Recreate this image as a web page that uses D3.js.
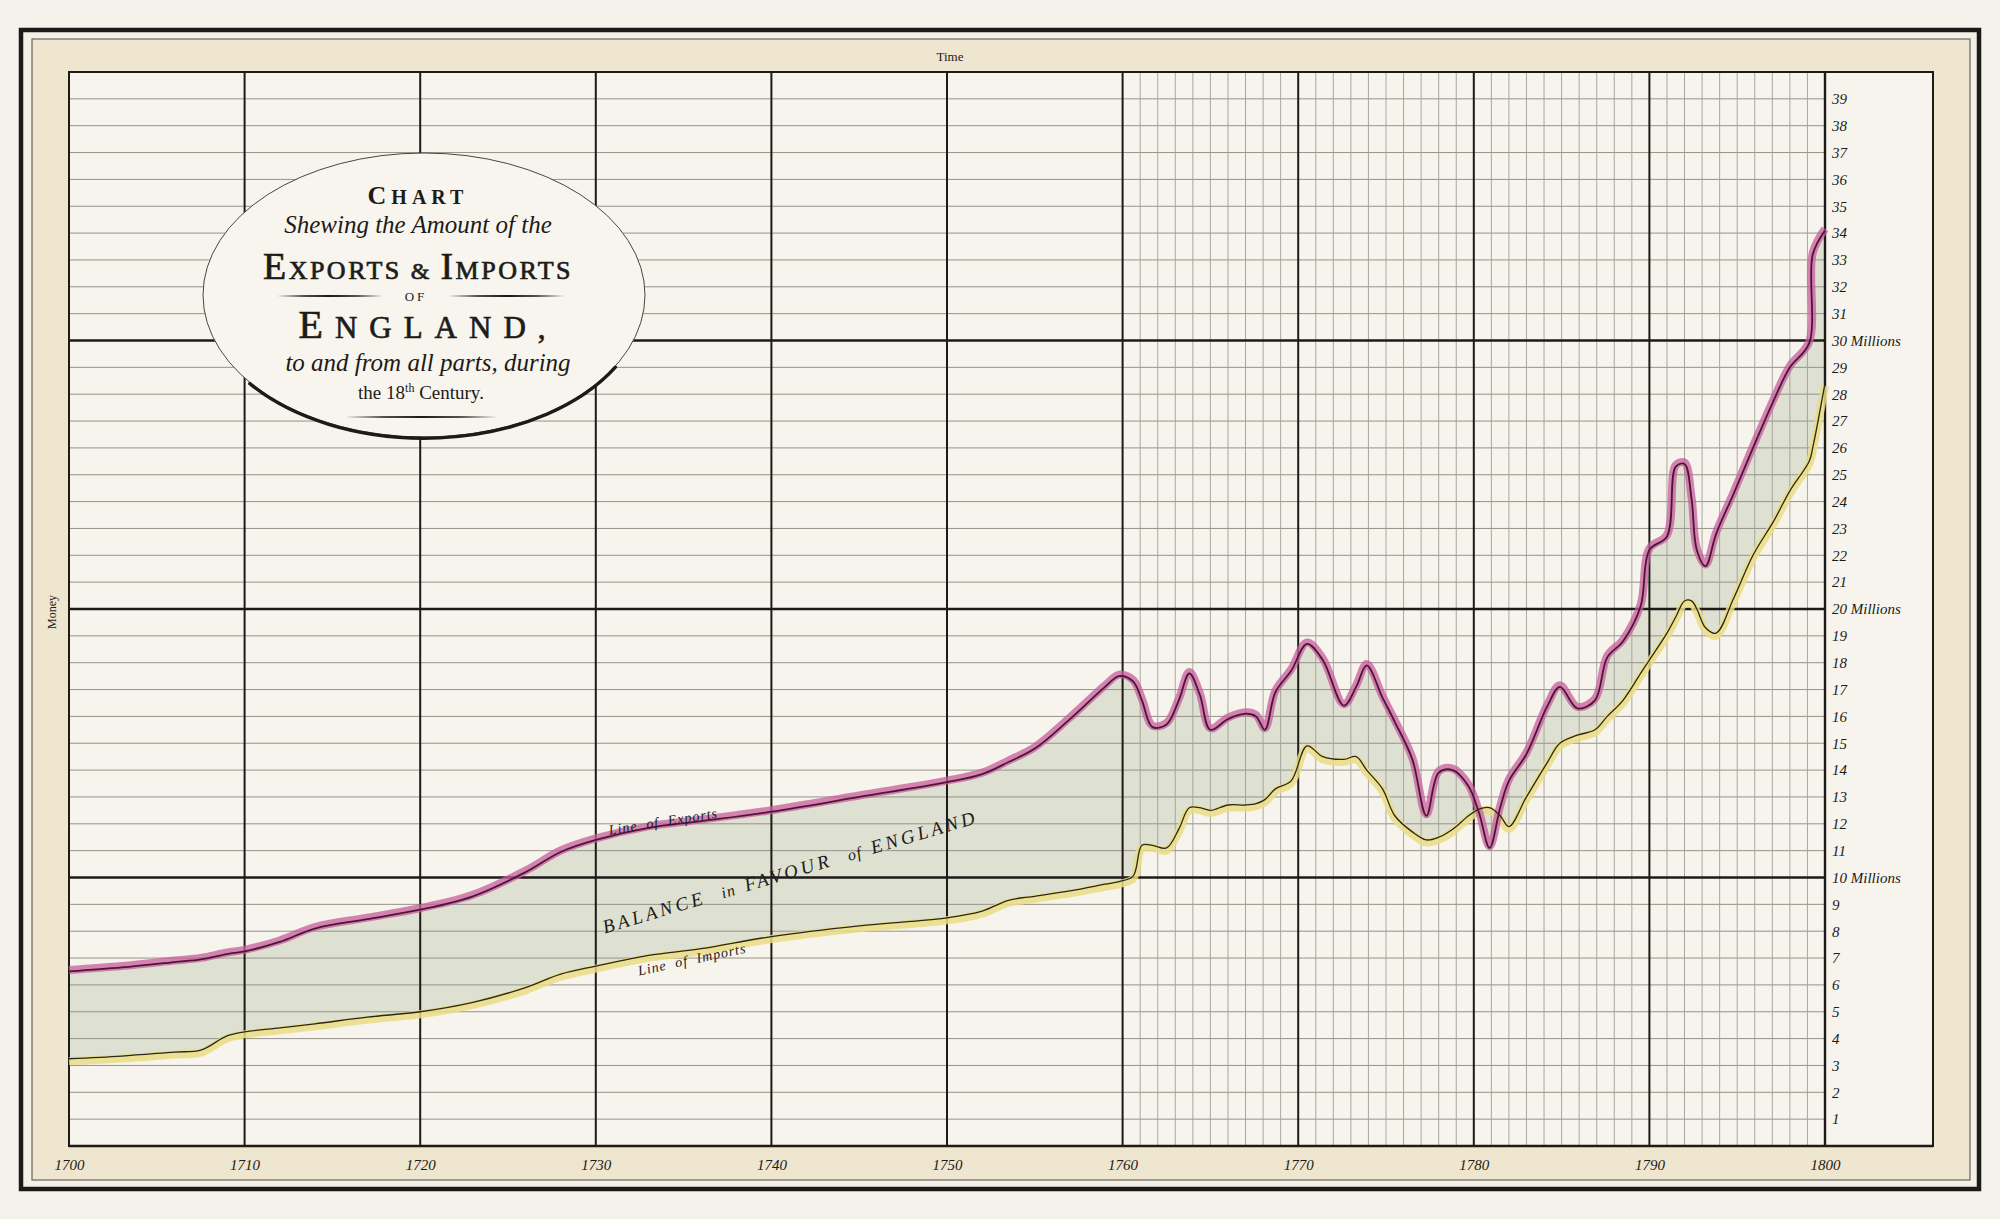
<!DOCTYPE html>
<html>
<head>
<meta charset="utf-8">
<script src="https://d3js.org/d3.v7.min.js"></script>
<style>
  body { margin: 0; background: #f4f2eb; }
  svg { display: block; }
  text { font-family: "Liberation Serif", "DejaVu Serif", serif; fill: #1d1a17; }
</style>
</head>
<body>
<div id="chart"></div>
<script>
// ----- data (millions of pounds)
var years = [1700, 1703, 1706, 1707.5, 1709, 1710, 1712, 1714, 1717, 1720, 1723, 1726, 1728, 1730,
  1733, 1736, 1740, 1745, 1750, 1752, 1753.5, 1755, 1757, 1759, 1759.8, 1760.6, 1761.1, 1761.7,
  1762.5, 1763.2, 1763.8, 1764.4, 1765, 1766, 1767, 1767.6, 1768.1, 1768.7, 1769.6, 1770.5,
  1771.4, 1772.6, 1773.3, 1773.9, 1774.8, 1775.5, 1776.5, 1777.3, 1778, 1778.8, 1779.7, 1780.3,
  1780.9, 1781.5, 1782, 1783, 1784.2, 1784.9, 1785.9, 1786.9, 1787.6, 1788.5, 1789.5, 1790,
  1791, 1791.5, 1792, 1792.4, 1792.7, 1793.2, 1793.8, 1794.8, 1795.9, 1797.1, 1798, 1799.1,
  1799.3, 1800];

var exportsM = [6.5, 6.65, 6.85, 6.95, 7.15, 7.25, 7.6, 8.1, 8.45, 8.8, 9.3, 10.2, 10.95, 11.4,
  11.85, 12.1, 12.45, 13.0, 13.55, 13.85, 14.3, 14.8, 15.9, 17.1, 17.5, 17.3, 16.6, 15.6,
  15.7, 16.6, 17.6, 16.8, 15.5, 15.9, 16.1, 16.0, 15.5, 16.9, 17.7, 18.7,
  18.1, 16.4, 17.1, 17.9, 16.7, 15.8, 14.4, 12.3, 13.9, 14.0, 13.4, 12.4,
  11.1, 12.6, 13.6, 14.6, 16.4, 17.1, 16.3, 16.6, 18.2, 18.8, 20.1, 22.2,
  22.7, 25.3, 25.4, 24.1, 22.2, 21.6, 22.8, 24.3, 26.0, 27.8, 29.0, 29.9,
  33.2, 34.1];

var importsM = [3.25, 3.35, 3.5, 3.57, 4.1, 4.25, 4.4, 4.55, 4.8, 5.0, 5.35, 5.9, 6.4, 6.7,
  7.1, 7.35, 7.8, 8.2, 8.5, 8.75, 9.15, 9.3, 9.5, 9.75, 9.85, 10.05, 11.2, 11.2,
  11.1, 11.8, 12.6, 12.6, 12.5, 12.7, 12.7, 12.75, 12.9, 13.3, 13.6, 14.9,
  14.5, 14.4, 14.5, 14.0, 13.3, 12.3, 11.7, 11.4, 11.5, 11.8, 12.3, 12.55,
  12.6, 12.3, 11.9, 13.0, 14.3, 15.0, 15.3, 15.5, 16.0, 16.6, 17.6, 18.1,
  19.1, 19.7, 20.3, 20.3, 20.0, 19.3, 19.1, 20.4, 22.0, 23.3, 24.4, 25.5,
  26.0, 28.4];

var decades = [1700, 1710, 1720, 1730, 1740, 1750, 1760, 1770, 1780, 1790, 1800];
var fineYears = d3.range(1761, 1800).filter(function (d) { return d % 10 !== 0; });
var millionTicks = d3.range(1, 40);
var majorMillions = [10, 20, 30];

// ----- dimensioni
var W = 2000, H = 1219;
var plot = { left: 69, right: 1825, top: 72, bottom: 1146, labelRight: 1933 };

var svg = d3.select('#chart').append('svg')
  .attr('width', W).attr('height', H)
  .attr('viewBox', '0 0 ' + W + ' ' + H);

var x = d3.scaleLinear().domain([1700, 1800]).range([plot.left, plot.right]);
var y = d3.scaleLinear().domain([0, 40]).range([plot.bottom, plot.top]);

var rows = years.map(function (yr, i) {
  return { year: yr, exp: exportsM[i], imp: importsM[i] };
});

// ----- pattern per le lettere incise
var defs = svg.append('defs');
var hatch = defs.append('pattern').attr('id', 'hatch')
  .attr('patternUnits', 'userSpaceOnUse').attr('width', 2.8).attr('height', 4);
hatch.append('rect').attr('width', 2.8).attr('height', 4).attr('fill', '#f2f0e8');
hatch.append('rect').attr('width', 1).attr('height', 4).attr('fill', '#3a3530');

// ----- cornice
svg.append('rect').attr('width', W).attr('height', H).attr('fill', '#f4f2eb');
svg.append('rect').attr('x', 21).attr('y', 30).attr('width', 1958).attr('height', 1159)
  .attr('fill', '#f3f0e7').attr('stroke', '#1c1a18').attr('stroke-width', 4.5);
svg.append('rect').attr('x', 32).attr('y', 39).attr('width', 1938).attr('height', 1141)
  .attr('fill', '#efe6cf').attr('stroke', '#6a655c').attr('stroke-width', 1.2);
svg.append('rect').attr('x', plot.left).attr('y', plot.top)
  .attr('width', plot.labelRight - plot.left).attr('height', plot.bottom - plot.top)
  .attr('fill', '#f6f4ec');

// ----- area del bilancio
var area = d3.area()
  .x(function (d) { return x(d.year); })
  .y0(function (d) { return y(d.imp); })
  .y1(function (d) { return y(d.exp); })
  .curve(d3.curveCatmullRom.alpha(0.5));

svg.append('path').datum(rows)
  .attr('d', area)
  .attr('fill', '#d9dccd')
  .attr('opacity', 0.85);

// ----- griglia
var grid = svg.append('g').attr('class', 'grid');

grid.selectAll('line.hmin').data(millionTicks.filter(function (d) { return d % 10 !== 0; }))
  .enter().append('line')
  .attr('x1', plot.left).attr('x2', plot.right)
  .attr('y1', function (d) { return y(d); }).attr('y2', function (d) { return y(d); })
  .attr('stroke', '#95928a').attr('stroke-width', 1);

grid.selectAll('line.vmin').data(fineYears)
  .enter().append('line')
  .attr('x1', function (d) { return x(d); }).attr('x2', function (d) { return x(d); })
  .attr('y1', plot.top).attr('y2', plot.bottom)
  .attr('stroke', '#a09e97').attr('stroke-width', 0.9);

grid.selectAll('line.hmaj').data(majorMillions)
  .enter().append('line')
  .attr('x1', plot.left).attr('x2', plot.right)
  .attr('y1', function (d) { return y(d); }).attr('y2', function (d) { return y(d); })
  .attr('stroke', '#1e1a17').attr('stroke-width', 2.4);

grid.selectAll('line.vmaj').data(decades.slice(1, -1))
  .enter().append('line')
  .attr('x1', function (d) { return x(d); }).attr('x2', function (d) { return x(d); })
  .attr('y1', plot.top).attr('y2', plot.bottom)
  .attr('stroke', '#1e1a17').attr('stroke-width', 2);

// bordi del grafico e colonna delle etichette
svg.append('path')
  .attr('d', 'M' + plot.left + ',' + plot.top + 'H' + plot.labelRight + 'V' + plot.bottom +
    'H' + plot.left + 'Z')
  .attr('fill', 'none').attr('stroke', '#1e1a17').attr('stroke-width', 2);
svg.append('line')
  .attr('x1', plot.right).attr('x2', plot.right).attr('y1', plot.top).attr('y2', plot.bottom)
  .attr('stroke', '#1e1a17').attr('stroke-width', 2.4);
svg.append('line')
  .attr('x1', plot.left).attr('x2', plot.labelRight).attr('y1', plot.bottom).attr('y2', plot.bottom)
  .attr('stroke', '#1e1a17').attr('stroke-width', 2.6);

// ----- linee di esportazioni e importazioni
function lineOf(key) {
  return d3.line()
    .x(function (d) { return x(d.year); })
    .y(function (d) { return y(d[key]); })
    .curve(d3.curveCatmullRom.alpha(0.5));
}

svg.append('path').datum(rows)
  .attr('d', lineOf('imp'))
  .attr('transform', 'translate(0,2.5)')
  .attr('fill', 'none').attr('stroke', '#e9dc84').attr('stroke-width', 8)
  .attr('stroke-linejoin', 'round').attr('opacity', 0.85);

svg.append('path').datum(rows)
  .attr('d', lineOf('exp'))
  .attr('transform', 'translate(0,-1.5)')
  .attr('fill', 'none').attr('stroke', '#c85c9c').attr('stroke-width', 8)
  .attr('stroke-linejoin', 'round').attr('opacity', 0.75);

svg.append('path').datum(rows)
  .attr('d', lineOf('imp'))
  .attr('fill', 'none').attr('stroke', '#2b2718').attr('stroke-width', 1.3);

svg.append('path').datum(rows)
  .attr('d', lineOf('exp'))
  .attr('fill', 'none').attr('stroke', '#4d1639').attr('stroke-width', 1.8);

// ----- assi
var xAxis = d3.axisBottom(x).tickValues(decades).tickSize(0).tickPadding(13)
  .tickFormat(function (d) { return String(d); });
var gx = svg.append('g').attr('transform', 'translate(0,' + plot.bottom + ')').call(xAxis);
gx.select('.domain').remove();
gx.selectAll('text')
  .style('font-family', '"Liberation Serif", serif')
  .style('font-style', 'italic').style('font-size', '15px').attr('fill', '#221e1a');

var yAxis = d3.axisRight(y).tickValues(millionTicks).tickSize(0).tickPadding(7)
  .tickFormat(function (d) { return d % 10 === 0 ? d + ' Millions' : String(d); });
var gy = svg.append('g').attr('transform', 'translate(' + plot.right + ',0)').call(yAxis);
gy.select('.domain').remove();
gy.selectAll('text')
  .style('font-family', '"Liberation Serif", serif')
  .style('font-style', 'italic').style('font-size', '15px').attr('fill', '#221e1a');

svg.append('text').attr('x', 950).attr('y', 61)
  .attr('text-anchor', 'middle').style('font-size', '13px').text('Time');
svg.append('text').attr('transform', 'translate(56,612) rotate(-90)')
  .attr('text-anchor', 'middle').style('font-size', '12px').attr('fill', '#77726a').text('Money');

// ----- etichette sulle linee
svg.append('text').attr('transform', 'translate(664,826) rotate(-9)')
  .attr('text-anchor', 'middle').style('font-style', 'italic').style('font-size', '14px')
  .style('letter-spacing', '1px').attr('xml:space', 'preserve').text('Line  of  Exports');

svg.append('text').attr('transform', 'translate(693,964) rotate(-12)')
  .attr('text-anchor', 'middle').style('font-style', 'italic').style('font-size', '14px')
  .style('letter-spacing', '1px').attr('xml:space', 'preserve').text('Line  of  Imports');

var bal = svg.append('text').attr('transform', 'translate(792,878) rotate(-16.5)')
  .attr('text-anchor', 'middle').style('font-style', 'italic').style('font-size', '19px')
  .style('letter-spacing', '3.5px').attr('xml:space', 'preserve');
bal.append('tspan').text('BALANCE  ');
bal.append('tspan').style('font-size', '16px').style('letter-spacing', '1px').text('in  ');
bal.append('tspan').text('FAVOUR  ');
bal.append('tspan').style('font-size', '16px').style('letter-spacing', '1px').text('of  ');
bal.append('tspan').text('ENGLAND');

// ----- cartiglio del titolo
var cx = 424, cy = 295, rx = 221, ry = 142;
var cart = svg.append('g');
cart.append('ellipse').attr('cx', cx).attr('cy', cy).attr('rx', rx).attr('ry', ry)
  .attr('fill', '#f7f5ee').attr('stroke', '#4a4540').attr('stroke-width', 1);

function onEllipse(deg, dy) {
  var a = deg * Math.PI / 180;
  return [cx + rx * Math.cos(a), cy + ry * Math.sin(a) + dy];
}
var s0 = onEllipse(30, 1.2), s1 = onEllipse(142, 1.2);
cart.append('path')
  .attr('d', 'M' + s0[0] + ',' + s0[1] + 'A' + rx + ',' + ry + ' 0 0 1 ' + s1[0] + ',' + s1[1])
  .attr('fill', 'none').attr('stroke', '#1e1a17').attr('stroke-width', 3.4)
  .attr('stroke-linecap', 'round');

function rule(x1, x2, yy, t) {
  var m = (x1 + x2) / 2;
  cart.append('path')
    .attr('d', 'M' + x1 + ',' + yy + 'Q' + m + ',' + (yy - t) + ' ' + x2 + ',' + yy +
      'Q' + m + ',' + (yy + t) + ' ' + x1 + ',' + yy + 'Z')
    .attr('fill', '#1e1a17');
}

var t1 = cart.append('text').attr('x', 418).attr('y', 204).attr('text-anchor', 'middle')
  .style('letter-spacing', '5px').style('font-weight', 'bold');
t1.append('tspan').style('font-size', '26px').text('C');
t1.append('tspan').style('font-size', '20px').text('HART');

cart.append('text').attr('x', 418).attr('y', 233).attr('text-anchor', 'middle')
  .style('font-style', 'italic').style('font-size', '25px')
  .text('Shewing the Amount of the');

var t3 = cart.append('text').attr('x', 418).attr('y', 279).attr('text-anchor', 'middle')
  .style('letter-spacing', '2.5px').attr('fill', 'url(#hatch)')
  .attr('stroke', '#221e1a').attr('stroke-width', 0.7).attr('xml:space', 'preserve');
t3.append('tspan').style('font-size', '38px').text('E');
t3.append('tspan').style('font-size', '26px').text('XPORTS ');
t3.append('tspan').style('font-size', '24px').attr('fill', '#221e1a').text('& ');
t3.append('tspan').style('font-size', '38px').text('I');
t3.append('tspan').style('font-size', '26px').text('MPORTS');

rule(277, 383, 296, 2.2);
rule(448, 565, 296, 2.2);
cart.append('text').attr('x', 416).attr('y', 301).attr('text-anchor', 'middle')
  .style('font-size', '13px').style('letter-spacing', '3px').text('OF');

var t5 = cart.append('text').attr('x', 428).attr('y', 338).attr('text-anchor', 'middle')
  .style('letter-spacing', '12px').attr('fill', 'url(#hatch)')
  .attr('stroke', '#221e1a').attr('stroke-width', 0.7);
t5.append('tspan').style('font-size', '40px').text('E');
t5.append('tspan').style('font-size', '31px').text('NGLAND');
t5.append('tspan').style('font-size', '31px').attr('fill', '#221e1a').text(',');

cart.append('text').attr('x', 428).attr('y', 371).attr('text-anchor', 'middle')
  .style('font-style', 'italic').style('font-size', '25px')
  .text('to and from all parts, during');

var t7 = cart.append('text').attr('x', 421).attr('y', 399).attr('text-anchor', 'middle')
  .style('font-size', '19px');
t7.append('tspan').text('the 18');
t7.append('tspan').attr('dy', -7).style('font-size', '12px').text('th');
t7.append('tspan').attr('dy', 7).text(' Century.');

rule(345, 498, 417, 1.8);
</script>
</body>
</html>
